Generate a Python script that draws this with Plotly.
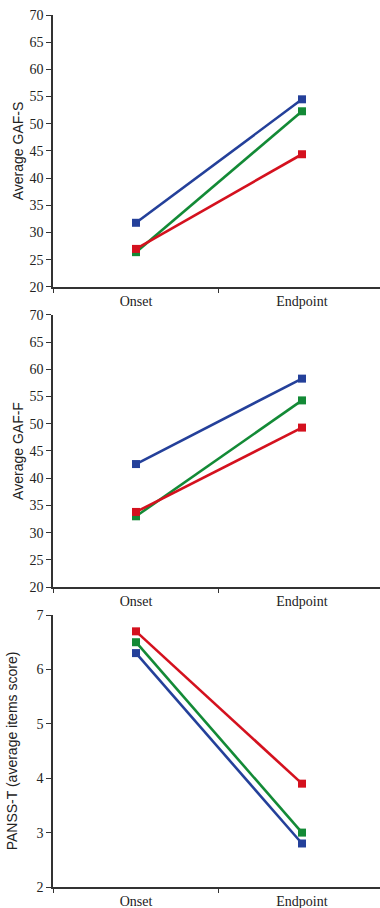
import plotly.graph_objects as go

categories = ["Onset", "Endpoint"]
series_names = ["Blue group", "Green group", "Red group"]
colors = ["#24409a", "#138a36", "#d4111e"]

gaf_s = {"Blue group": [31.8, 54.5], "Green group": [26.4, 52.3], "Red group": [27.0, 44.4]}
gaf_f = {"Blue group": [42.6, 58.3], "Green group": [33.0, 54.3], "Red group": [33.8, 49.3]}
panss_t = {"Blue group": [6.3, 2.8], "Green group": [6.5, 3.0], "Red group": [6.7, 3.9]}

panels = [
    (gaf_s, "Average GAF-S", [20, 70], 5, "y"),
    (gaf_f, "Average GAF-F", [20, 70], 5, "y2"),
    (panss_t, "PANSS-T (average items score)", [2, 7], 1, "y3"),
]

domains = [[0.6881, 1.0], [0.3440, 0.6560], [0.0, 0.3119]]
standoffs = [3, 3, 16]

fig = go.Figure()
for i, (data, title, rng, dt, yref) in enumerate(panels):
    xref = "x" if i == 0 else f"x{i+1}"
    for name, col in zip(series_names, colors):
        fig.add_trace(go.Scatter(
            x=categories, y=data[name], mode="lines+markers", name=name,
            line=dict(color=col, width=2.6),
            marker=dict(symbol="square", size=8, color=col),
            xaxis=xref, yaxis=yref, showlegend=False,
        ))

layout = dict(
    width=380, height=908,
    margin=dict(l=53, r=0, t=15, b=21),
    paper_bgcolor="white", plot_bgcolor="white",
)
for i, (data, title, rng, dt, yref) in enumerate(panels):
    xk = "xaxis" if i == 0 else f"xaxis{i+1}"
    yk = "yaxis" if i == 0 else f"yaxis{i+1}"
    xa = "x" if i == 0 else f"x{i+1}"
    layout[xk] = dict(
        domain=[0, 1], anchor=yref, type="category", automargin=False,
        categoryorder="array", categoryarray=categories,
        range=[-0.5, 1.47], showgrid=False, zeroline=False,
        showline=True, linecolor="#333333", linewidth=1.5,
        ticks="outside", tickson="boundaries", ticklen=4, tickcolor="#333333",
        tickfont=dict(family="Liberation Serif", size=14, color="#222222"),
        fixedrange=True,
    )
    layout[yk] = dict(
        domain=domains[i], anchor=xa, range=rng, dtick=dt, tick0=rng[0],
        showgrid=False, zeroline=False, automargin=False,
        showline=True, linecolor="#333333", linewidth=1.5,
        ticks="outside", ticklen=5, tickcolor="#333333",
        tickfont=dict(family="Liberation Serif", size=14, color="#222222"),
        title=dict(text=title, font=dict(family="Liberation Sans", size=14, color="#222222"),
                   standoff=standoffs[i]),
    )
fig.update_layout(**layout)
fig.write_html("out.html", config={"displayModeBar": False},
               post_script="document.body.style.margin='0';")
